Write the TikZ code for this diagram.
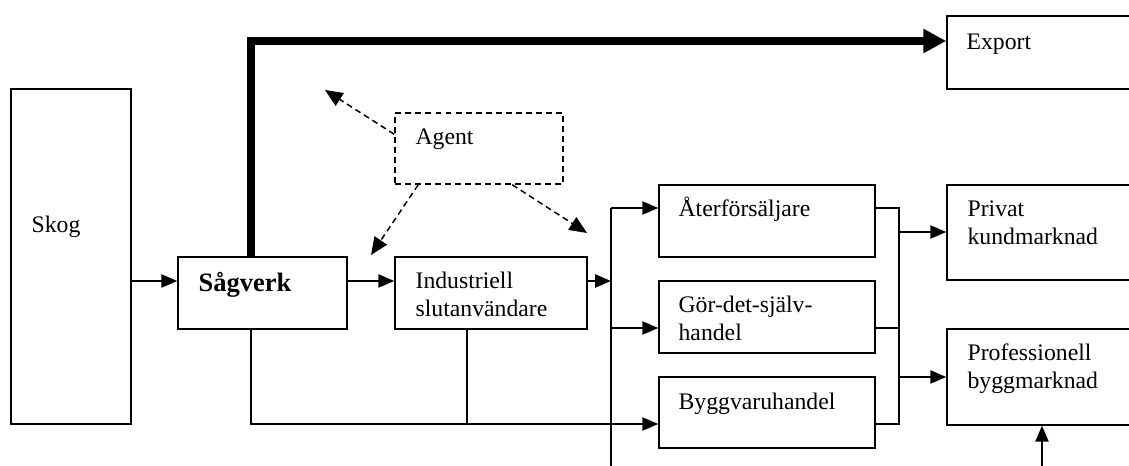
\documentclass[tikz,border=0pt]{standalone}
\usepackage{fontspec}
\setmainfont{Liberation Serif}
\usetikzlibrary{arrows.meta,fit,calc}
\begin{document}
\begin{tikzpicture}[x=0.02cm,y=-0.02cm,
  box/.style={draw, line width=0.85pt, inner sep=0pt},
  dbox/.style={box, dash pattern=on 3.4pt off 2.3pt},
  lbl/.style={anchor=base west, inner sep=0pt, align=left,
              font=\fontsize{13.5}{15.9}\selectfont},
  conn/.style={line width=0.85pt},
  arr/.style={conn, -{Triangle[length=9pt,width=7.5pt]}},
  dasharr/.style={line width=0.85pt, dash pattern=on 3.4pt off 2.3pt,
                  -{Triangle[length=10pt,width=8.5pt]}},
  mainarr/.style={line width=4pt, line join=miter,
                  -{Triangle[length=13pt,width=13pt]}}]
\clip (0,0) rectangle (1129,466);

% boxes
\node[box, fit={(11,89)(131,424)}] (skog) {};
\node[box, fit={(178,257)(347,329)}] (sag) {};
\node[box, fit={(395,257)(587,329)}] (ind) {};
\node[dbox, fit={(395,113)(563,184)}] (agent) {};
\node[box, fit={(947,16)(1140,89)}] (export) {};
\node[box, fit={(659,185)(875,257)}] (ater) {};
\node[box, fit={(659,281)(875,353)}] (gor) {};
\node[box, fit={(659,377)(875,448)}] (bygg) {};
\node[box, fit={(947,185)(1140,280)}] (privat) {};
\node[box, fit={(947,329)(1140,425)}] (prof) {};

% texts (two-line labels are placed by the baseline of their last line)
\node[lbl] (tskog) at ($(skog.north west)+(21,144)$) {Skog};
\node[lbl, font=\fontsize{15.1}{17.5}\selectfont\bfseries] (tsag) at ($(sag.north west)+(21,35)$) {Sågverk};
\node[lbl] (tind) at ($(ind.north west)+(21,60)$) {Industriell\\slutanvändare};
\node[lbl] (tagent) at ($(agent.north west)+(21,32)$) {Agent};
\node[lbl] (texport) at ($(export.north west)+(20,34)$) {Export};
\node[lbl] (tater) at ($(ater.north west)+(20,32)$) {Återförsäljare};
\node[lbl] (tgor) at ($(gor.north west)+(20,60)$) {Gör-det-själv-\\handel};
\node[lbl] (tbygg) at ($(bygg.north west)+(20,33)$) {Byggvaruhandel};
\node[lbl] (tprivat) at ($(privat.north west)+(21,60)$) {Privat\\kundmarknad};
\node[lbl] (tprof) at ($(prof.north west)+(21,60)$) {Professionell\\byggmarknad};

% helper coordinates for rows and buses
\coordinate (ya) at (0,281);
\coordinate (yg) at (0,328);
\coordinate (yb) at (0,424);
\coordinate (yp) at (0,232);
\coordinate (yq) at (0,377);
\coordinate (yt) at (0,41);
\coordinate (xs) at (251,0);
\coordinate (xi) at (467,0);
\coordinate (busL) at (611,208);
\coordinate (busLb) at (611,470);
\coordinate (busR) at (899,208);
\coordinate (upfoot) at (1042,470);
\coordinate (dA) at (325,90);
\coordinate (dB) at (371,255);
\coordinate (dC) at (587,233);

% main flow
\draw[arr] (skog.east |- ya) -- (sag.west |- ya);
\draw[arr] (sag.east |- ya) -- (ind.west |- ya);
\draw[arr] (ind.east |- ya) -- (busL |- ya);
\draw[conn] (busL) -- (busLb);
\draw[arr] (busL) -- (ater.west |- busL);
\draw[arr] (busL |- yg) -- (gor.west |- yg);
\draw[arr] (sag.south -| xs) |- (bygg.west |- yb);
\draw[conn] (ind.south -| xi) -- (xi |- yb);

% towards the markets
\draw[conn] (ater.east |- busL) -- (busR) -- (busR |- yb) -- (bygg.east |- yb);
\draw[conn] (gor.east |- yg) -- (busR |- yg);
\draw[arr] (busR |- yp) -- (privat.west |- yp);
\draw[arr] (busR |- yq) -- (prof.west |- yq);
\draw[arr] (upfoot) -- (prof.south -| upfoot);

% export
\draw[mainarr] (sag.north -| xs) -- (xs |- yt) -- (export.west |- yt);

% agent
\draw[dasharr] ($(agent.north west)+(0,22)$) -- (dA);
\draw[dasharr] ($(agent.south west)+(24,0)$) -- (dB);
\draw[dasharr] ($(agent.south west)+(118,0)$) -- (dC);
\end{tikzpicture}
\end{document}
